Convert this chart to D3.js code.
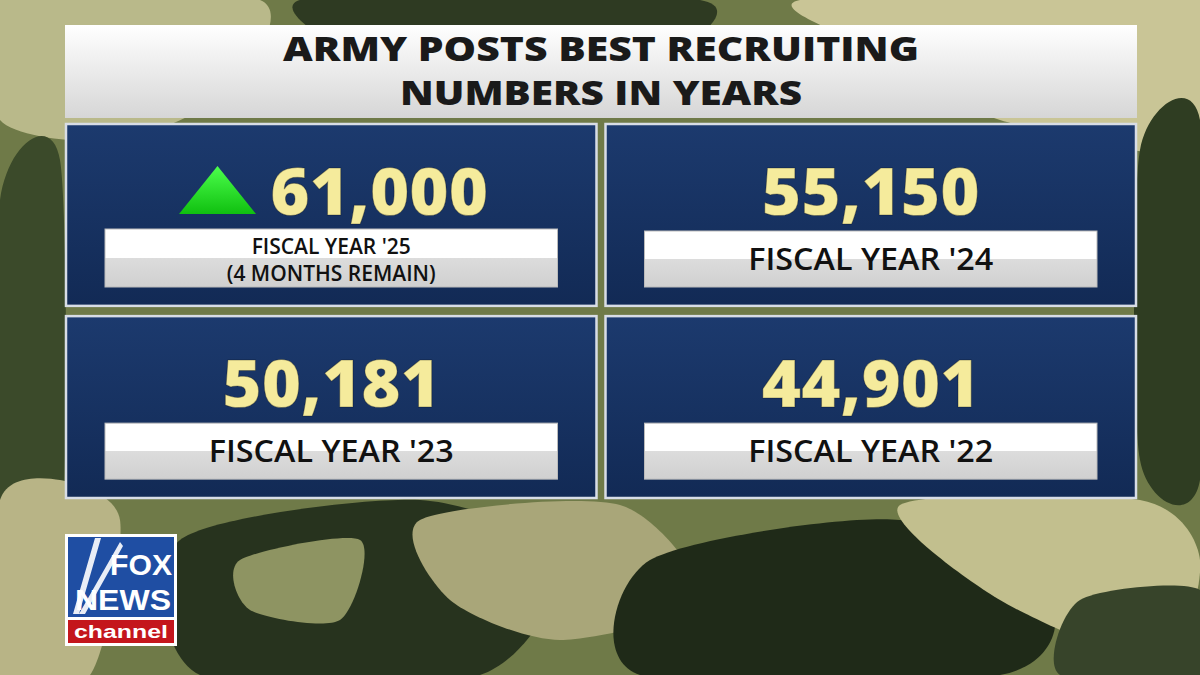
<!DOCTYPE html>
<html><head><meta charset="utf-8">
<script src="https://cdn.jsdelivr.net/npm/d3@7"></script>
<style>body{margin:0;background:#222}svg{display:block}</style>
</head><body>
<svg id="c" width="1200" height="675"></svg>
<script>
const title = ["ARMY POSTS BEST RECRUITING", "NUMBERS IN YEARS"];
const values = [61000, 55150, 50181, 44901];
const labels = [["FISCAL YEAR '25", "(4 MONTHS REMAIN)"], ["FISCAL YEAR '24"], ["FISCAL YEAR '23"], ["FISCAL YEAR '22"]];
const rising = [true, false, false, false];

const svg = d3.select("#c");
const defs = svg.append("defs");
const g1 = defs.append("linearGradient").attr("id","lab").attr("x1",0).attr("y1",0).attr("x2",0).attr("y2",1);
g1.append("stop").attr("offset","0.5").attr("stop-color","#ffffff");
g1.append("stop").attr("offset","0.5").attr("stop-color","#dcdcdc");
g1.append("stop").attr("offset","1").attr("stop-color","#d0d0d0");
const g2 = defs.append("linearGradient").attr("id","pan").attr("x1",0).attr("y1",0).attr("x2",0).attr("y2",1);
g2.append("stop").attr("offset","0").attr("stop-color","#1c3a6e");
g2.append("stop").attr("offset","1").attr("stop-color","#122a55");
const g3 = defs.append("linearGradient").attr("id","tri").attr("x1",0).attr("y1",0).attr("x2",0).attr("y2",1);
g3.append("stop").attr("offset","0").attr("stop-color","#4cff4c");
g3.append("stop").attr("offset","1").attr("stop-color","#10c010");

svg.append("rect").attr("width",1200).attr("height",675).attr("fill","#6f7a48");
const blobs = [
 ["#b9b98a",[[0,0],[260,0],[230,90],[120,140],[0,120]]],
 ["#2e3a22",[[300,0],[700,0],[650,60],[420,80]]],
 ["#c9c596",[[800,0],[1200,0],[1200,150],[1000,120],[900,60]]],
 ["#3b4a2a",[[0,200],[60,160],[60,560],[0,600]]],
 ["#b8b486",[[0,500],[60,480],[120,520],[90,675],[0,675]]],
 ["#27331e",[[180,540],[420,500],[560,560],[480,675],[200,675]]],
 ["#a9a679",[[420,520],[620,505],[700,600],[560,640],[450,600]]],
 ["#1f2a18",[[650,560],[900,520],[1050,600],[1000,675],[640,675]]],
 ["#c2bf8e",[[900,505],[1140,500],[1200,560],[1160,660],[1000,600]]],
 ["#2f3d22",[[1140,150],[1200,120],[1200,480],[1140,460]]],
 ["#8e9462",[[240,560],[360,540],[340,620],[250,610]]],
 ["#37442a",[[1080,600],[1200,590],[1200,675],[1060,675]]]
];
const line = d3.line().curve(d3.curveCardinalClosed.tension(0.2));
svg.selectAll("path.blob").data(blobs).join("path").attr("class","blob")
  .attr("d",d=>line(d[1])).attr("fill",d=>d[0]);

const tg = defs.append("linearGradient").attr("id","tt").attr("x1",0).attr("y1",0).attr("x2",0).attr("y2",1);
tg.append("stop").attr("offset","0").attr("stop-color","#ffffff");
tg.append("stop").attr("offset","1").attr("stop-color","#d6d6d6");
svg.append("rect").attr("x",65).attr("y",25).attr("width",1072).attr("height",93).attr("fill","url(#tt)");
svg.selectAll("text.t").data(title).join("text").attr("class","t")
  .attr("x",601).attr("y",(d,i)=>61+i*44).attr("text-anchor","middle")
  .attr("font-family","'Open Sans', 'Liberation Sans', sans-serif").attr("font-weight",800)
  .attr("font-size",34).attr("fill","#1a1a1a").attr("textLength",(d,i)=>i?402:636)
  .attr("lengthAdjust","spacingAndGlyphs").text(d=>d);

const col = d3.scaleBand().domain([0,1]).range([65,1137]).paddingInner(0.013);
const row = d3.scaleBand().domain([0,1]).range([123,499]).paddingInner(0.043);
const fmt = d3.format(",");
const p = svg.selectAll("g.p").data(values).join("g").attr("class","p")
  .attr("transform",(d,i)=>`translate(${col(i%2)},${row(Math.floor(i/2))})`);
const W = col.bandwidth(), H = row.bandwidth();
p.append("rect").attr("x",1).attr("y",1).attr("width",W-2).attr("height",H-2)
  .attr("fill","url(#pan)").attr("stroke","#d8dde6").attr("stroke-width",2.5);
p.append("text").attr("x",(d,i)=>rising[i]?W/2+48:W/2).attr("y",92).attr("text-anchor","middle")
  .attr("font-family","'Open Sans', 'Liberation Sans', sans-serif").attr("font-weight",800).attr("font-size",66)
  .attr("fill","#f5eb9c").attr("stroke","#000").attr("stroke-opacity",0.3).attr("stroke-width",1)
  .attr("textLength",218).attr("lengthAdjust","spacingAndGlyphs")
  .text(d=>fmt(d));
p.filter((d,i)=>rising[i]).append("path").attr("d","M114,91 L191,91 L152.5,43 Z").attr("fill","url(#tri)");
p.append("rect").attr("x",40).attr("y",(d,i)=>labels[i].length>1?106:108).attr("width",W-80)
  .attr("height",(d,i)=>labels[i].length>1?58:56).attr("fill","url(#lab)").attr("stroke","#bbb").attr("stroke-width",1);
p.each(function(d,i){
  const L = labels[i], g = d3.select(this);
  const fs = L.length>1?21:30;
  const t = g.selectAll("text.l").data(L).join("text").attr("class","l")
   .attr("x",W/2).attr("y",(t,j)=>L.length>1?(131+j*27):147).attr("text-anchor","middle")
   .attr("font-family","'Open Sans', 'Liberation Sans', sans-serif").attr("font-weight",600)
   .attr("font-size",fs).attr("fill","#111").text(t=>t);
  if (L.length===1) t.attr("textLength",245).attr("lengthAdjust","spacingAndGlyphs");
});

const lg = svg.append("g").attr("transform","translate(65,534)");
lg.append("rect").attr("width",112).attr("height",112).attr("fill","#fff");
lg.append("rect").attr("x",3).attr("y",3).attr("width",106).attr("height",80).attr("fill","#1f4ea3");
lg.append("path").attr("d","M8,80 L30,4 L36,4 L14,80 Z M14,80 L55,8 L58,12 L20,80 Z").attr("fill","#fff").attr("opacity",0.9);
lg.append("text").attr("x",76).attr("y",41).attr("text-anchor","middle").attr("font-family","'Liberation Sans',sans-serif").attr("font-weight",700).attr("font-size",30).attr("fill","#fff").attr("textLength",62).attr("lengthAdjust","spacingAndGlyphs").text("FOX");
lg.append("text").attr("x",58).attr("y",76).attr("text-anchor","middle").attr("font-family","'Liberation Sans',sans-serif").attr("font-weight",700).attr("font-size",30).attr("fill","#fff").attr("textLength",96).attr("lengthAdjust","spacingAndGlyphs").text("NEWS");
lg.append("rect").attr("x",3).attr("y",86).attr("width",106).attr("height",23).attr("fill","#c4161c");
lg.append("text").attr("x",56).attr("y",104).attr("text-anchor","middle").attr("font-family","'Liberation Sans',sans-serif").attr("font-weight",700).attr("font-size",19).attr("fill","#fff").attr("textLength",94).attr("lengthAdjust","spacingAndGlyphs").text("channel");
</script>
</body></html>
